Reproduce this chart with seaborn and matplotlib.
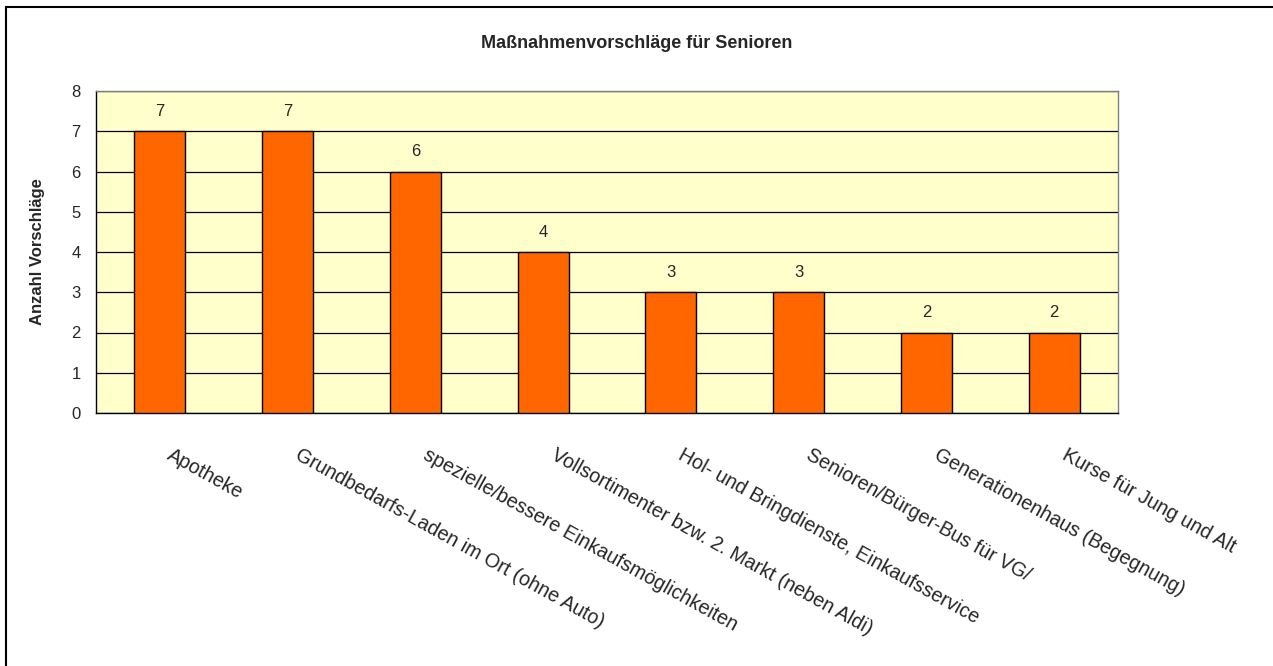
import matplotlib
matplotlib.use("Agg")
import matplotlib.pyplot as plt
import seaborn as sns
import pandas as pd
from matplotlib.patches import Rectangle

# data
categories = [
    "Apotheke",
    "Grundbedarfs-Laden im Ort (ohne Auto)",
    "spezielle/bessere Einkaufsmöglichkeiten",
    "Vollsortimenter bzw. 2. Markt (neben Aldi)",
    "Hol- und Bringdienste, Einkaufsservice",
    "Senioren/Bürger-Bus für VG/",
    "Generationenhaus (Begegnung)",
    "Kurse für Jung und Alt",
]
counts = [7, 7, 6, 4, 3, 3, 2, 2]

sns.set_style("white")
plt.rcParams["font.family"] = ["Liberation Sans", "DejaVu Sans"]

df = pd.DataFrame({"Massnahme": categories, "Anzahl": counts})

fig = plt.figure(figsize=(12.73, 6.66), dpi=100)
ax = fig.add_axes([96 / 1273, 1 - 413 / 666, (1118 - 96) / 1273, (413 - 91) / 666])
ax.set_facecolor("#FFFFCC")

sns.barplot(data=df, x="Massnahme", y="Anzahl", color="#FF6600",
            edgecolor="black", linewidth=1, width=0.4, saturation=1, ax=ax, zorder=3)

ax.set_ylim(0, 8)
ax.set_xlim(-0.5, len(categories) - 0.5)
ax.set_yticks(range(0, 9))
ax.yaxis.grid(True, color="black", linewidth=0.9, zorder=0)
ax.set_axisbelow(True)

for i, v in enumerate(counts):
    ax.text(i, v + 0.3, str(v), ha="center", va="bottom", fontsize=12)

# x ticks at category boundaries, labels at centres
ax.set_xticks([i - 0.5 for i in range(len(categories) + 1)], minor=False)
ax.set_xticklabels([])
ax.tick_params(axis="x", direction="out", length=6, color="black", width=0.8)
ax.tick_params(axis="y", direction="out", length=5, color="black", width=0.8,
               labelsize=12, pad=6)
for i, c in enumerate(categories):
    ax.text(i + 0.05, -1.12, c, rotation=-29, rotation_mode="anchor",
            ha="left", va="baseline", fontsize=14.2)

for side in ["top", "right"]:
    ax.spines[side].set_color("#808080")
for side in ["left", "bottom"]:
    ax.spines[side].set_color("black")
for s in ax.spines.values():
    s.set_linewidth(1)

ax.set_xlabel("")
ax.set_ylabel("Anzahl Vorschläge", fontsize=12, fontweight="bold")
ax.yaxis.set_label_coords(-0.05, 0.5)

fig.text(0.5, 1 - 44 / 666, "Maßnahmenvorschläge für Senioren",
         ha="center", va="center", fontsize=13, fontweight="bold")

# outer chart border (only top and left fall inside the image)
fig.patches.append(Rectangle((6 / 1273, -10 / 666), 1300 / 1273, 669 / 666,
                             transform=fig.transFigure, fill=False,
                             edgecolor="black", linewidth=1.5))

fig.savefig("out.png", dpi=100)
